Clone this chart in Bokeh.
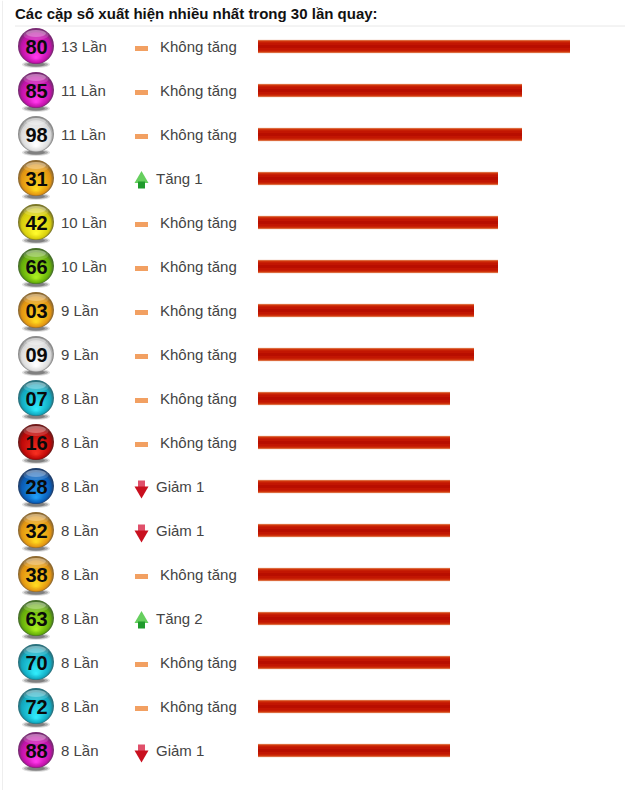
from bokeh.plotting import figure
from bokeh.models import Range1d, ColumnDataSource
from bokeh.core.properties import value
from bokeh.embed import file_html
from bokeh.resources import INLINE

title = "Các cặp số xuất hiện nhiều nhất trong 30 lần quay:"
numbers = ["80","85","98","31","42","66","03","09","07","16","28","32","38","63","70","72","88"]
counts = [13,11,11,10,10,10,9,9,8,8,8,8,8,8,8,8,8]
trend = ["same","same","same","up","same","same","same","same","same","same","down","down","same","up","same","same","down"]
trend_text = ["Không tăng","Không tăng","Không tăng","Tăng 1","Không tăng","Không tăng","Không tăng","Không tăng","Không tăng","Không tăng","Giảm 1","Giảm 1","Không tăng","Tăng 2","Không tăng","Không tăng","Giảm 1"]
ball_color = ["magenta","magenta","white","orange","yellow","green","orange","white","cyan","red","blue","orange","orange","green","cyan","cyan","magenta"]

palette = {  # rim, body, lower glow
    "magenta": ("#7a2a74", "#c012a8", "#ff38ea"),
    "white": ("#8c8c8c", "#dcdcdc", "#ffffff"),
    "orange": ("#8f6a30", "#e39512", "#ffd820"),
    "yellow": ("#7c7828", "#d6cd0c", "#fefa2c"),
    "green": ("#47702a", "#66ae0a", "#a8ee20"),
    "cyan": ("#2a727e", "#12a9c0", "#30eafa"),
    "red": ("#701a1a", "#bc0808", "#f42e20"),
    "blue": ("#20406e", "#0a5cb6", "#209cf4"),
}

def mix(a, b, t):
    ca = [int(a[k:k+2], 16) for k in (1, 3, 5)]
    cb = [int(b[k:k+2], 16) for k in (1, 3, 5)]
    return "#%02x%02x%02x" % tuple(round(x + (y - x) * t) for x, y in zip(ca, cb))

W, H = 625, 790
ROW = 44.0
Y0 = 46.0
rows = list(range(len(numbers)))
p = figure(width=W, height=H, output_backend="svg", toolbar_location=None,
           x_range=Range1d(-257.5/24, 367.5/24), y_range=Range1d((790-Y0)/ROW, -Y0/ROW),
           min_border=0, outline_line_color=None, background_fill_color="white",
           border_fill_color="white")
p.axis.visible = False
p.grid.visible = False
p.extra_x_ranges = {"px": Range1d(0.5, 625.5)}
PX = dict(x_range_name="px")

font = value("Liberation Sans")
# page rules
p.segment(x0=[15], x1=[625], y0=[-20.5/ROW], y1=[-20.5/ROW], line_color="#e8e8e8", line_width=1, **PX)
p.segment(x0=[2.5], x1=[2.5], y0=[-46/ROW], y1=[744/ROW], line_color="#eeeeee", line_width=1, **PX)
p.text(x=[15], y=[-33/ROW], text=[title], text_font=font, text_font_size="15px",
       text_font_style="bold", text_color="#111111", text_baseline="middle", **PX)

# bars, from outer glow to inner core
src = ColumnDataSource(dict(y=rows, c=counts))
for h, col in [(13.5, "#efc4ae"), (12.5, "#d64c18"), (10.5, "#cc2a08"), (8, "#c21602"), (3, "#b80e00")]:
    p.hbar(y="y", left=0, right="c", height=h/ROW, source=src, fill_color=col, line_color=None)

# balls: stacked circles give the glass shading
for i, (n, key) in enumerate(zip(numbers, ball_color)):
    rim, body, glow = palette[key]
    for w, h, a in [(28, 7, 0.16), (24, 5, 0.3), (18, 4, 0.35)]:
        p.ellipse(x=[36], y=[i + 18/ROW], width=w, height=h, width_units="screen", height_units="screen",
                  fill_color="#333333", fill_alpha=a, line_color=None, **PX)
    steps = 14
    for k in range(steps):
        t = k / (steps - 1)
        size = 36 - 33 * t
        dy = -0.5 + 11 * t
        col = mix(rim, body, min(1, t * 6)) if t < 1/6 else mix(body, glow, (t - 1/6) / (5/6))
        p.scatter(x=[36], y=[i + dy/ROW], size=size, fill_color=col, line_color=None, **PX)
    for w, h, a, dy in [(25, 10, 0.16, -11.5), (20, 7, 0.28, -13)]:
        p.ellipse(x=[36], y=[i + dy/ROW], width=w, height=h, width_units="screen", height_units="screen",
                  fill_color="#ffffff", fill_alpha=a, line_color=None, **PX)
    p.text(x=[36.5], y=[i], text=[n], text_font=font, text_font_size="20px",
           text_font_style="bold", text_color="#0a0a0a", text_align="center", text_baseline="middle", **PX)

# count labels
p.text(x=[61]*len(rows), y=rows, text=[f"{c} Lần" for c in counts], text_font=font,
       text_font_size="15px", text_color="#444444", text_baseline="middle", **PX)

# trend marks and text
for i, (t, s) in enumerate(zip(trend, trend_text)):
    if t == "same":
        p.rect(x=[141.5], y=[i + 2/ROW], width=13, height=5, width_units="screen", height_units="screen",
               fill_color="#f2a062", line_color=None, **PX)
        tx = 160
    elif t == "up":
        p.scatter(x=[141.5], y=[i + 0.5/ROW], marker="triangle", size=14, fill_color="#66cf5e", line_color=None, **PX)
        p.rect(x=[141.5], y=[i + 6.5/ROW], width=7, height=7, width_units="screen", height_units="screen",
               fill_color="#1f9a2c", line_color=None, **PX)
        tx = 156
    else:
        p.rect(x=[141.5], y=[i - 2.5/ROW], width=7, height=7, width_units="screen", height_units="screen",
               fill_color="#e0506a", line_color=None, **PX)
        p.scatter(x=[141.5], y=[i + 4/ROW], marker="inverted_triangle", size=14, fill_color="#c9101f", line_color=None, **PX)
        tx = 156
    p.text(x=[tx], y=[i], text=[s], text_font=font, text_font_size="15px", text_color="#444444",
           text_baseline="middle", **PX)

open("out.html", "w").write(file_html(p, INLINE))
